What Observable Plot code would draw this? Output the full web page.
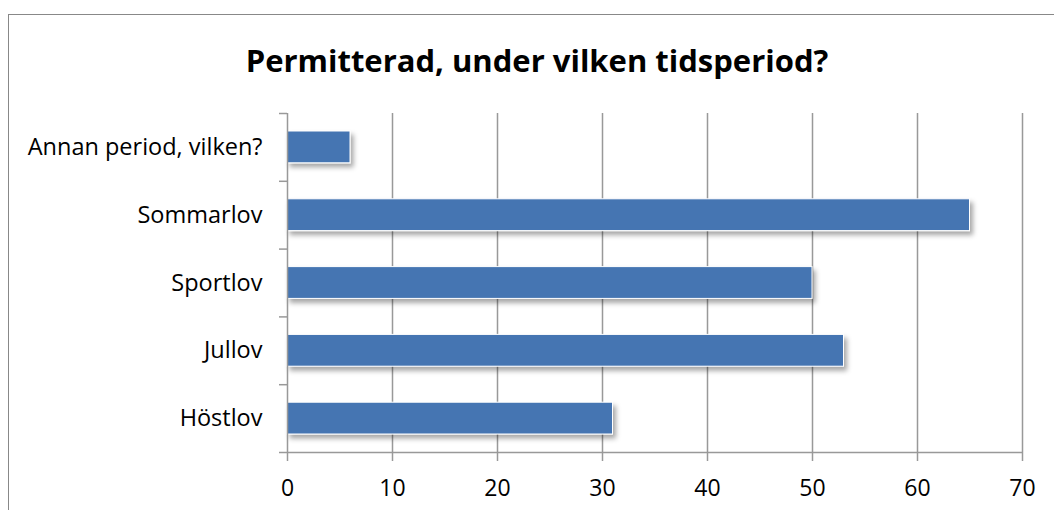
<!DOCTYPE html>
<html><head><meta charset="utf-8">
<script src="https://cdn.jsdelivr.net/npm/d3@7"></script>
<script src="https://cdn.jsdelivr.net/npm/@observablehq/plot@0.6"></script>
<style>
html,body{margin:0;padding:0;width:1054px;height:510px;overflow:hidden;background:#fff;}
#frame{position:absolute;left:8px;top:14px;width:1100px;height:600px;border:1.5px solid #888;box-sizing:border-box;}
#title{position:absolute;left:0;top:40px;width:1074px;text-align:center;font:bold 31px "Open Sans";color:#000;line-height:40px;}
#chart{position:absolute;left:0;top:0;}
</style></head><body>
<div id="frame"></div>
<div id="chart"></div>
<div id="title">Permitterad, under vilken tidsperiod?</div>
<script>
const categories = ["Annan period, vilken?", "Sommarlov", "Sportlov", "Jullov", "Höstlov"];
const values = [6, 65, 50, 53, 31];
const xTicks = [0, 10, 20, 30, 40, 50, 60, 70];
const data = categories.map((c, i) => ({category: c, value: values[i], i}));
const gray = "#999";
const plot = Plot.plot({
  width: 1054, height: 510,
  marginLeft: 287, marginRight: 32, marginTop: 113, marginBottom: 58,
  style: {fontFamily: "Open Sans", fontSize: "23px", color: "#000", background: "transparent", overflow: "visible"},
  x: {domain: [0, 70]},
  y: {domain: [0, 5], reverse: true},
  marks: [
    Plot.ruleX(xTicks.slice(1), {stroke: gray, strokeWidth: 1.5}),
    Plot.rect(data, {x1: 0, x2: "value", y1: "i", y2: d => d.i + 1, insetTop: 18, insetBottom: 18, fill: "#4575b2", stroke: "#fff", strokeWidth: 1}),
    Plot.ruleY([5], {stroke: gray, strokeWidth: 1.5}),
    Plot.ruleX([0], {stroke: gray, strokeWidth: 1.5}),
    Plot.axisX({ticks: xTicks, tickSize: 9, tickPadding: 18, stroke: gray, strokeWidth: 1.5, tickFormat: d => d, label: null, fontSize: 23}),
    Plot.axisY({ticks: [0, 1, 2, 3, 4, 5], tickSize: 8, stroke: gray, strokeWidth: 1.5, tickFormat: () => "", label: null}),
    Plot.axisY({ticks: categories.map((c, i) => i + 0.5), tickSize: 0, tickPadding: 25, tickFormat: v => categories[Math.floor(v)], label: null, fontSize: 23.5})
  ]
});
const svg = d3.select(plot);
const defs = svg.insert("defs", ":first-child");
const f = defs.append("filter").attr("id", "shadow").attr("x", "-10%").attr("y", "-30%").attr("width", "130%").attr("height", "200%");
f.append("feDropShadow").attr("dx", 3).attr("dy", 4).attr("stdDeviation", 2.5).attr("flood-color", "#000").attr("flood-opacity", 0.35);
svg.selectAll('g[aria-label="rect"] rect').attr("filter", "url(#shadow)");
document.getElementById("chart").appendChild(plot);
</script>
</body></html>
